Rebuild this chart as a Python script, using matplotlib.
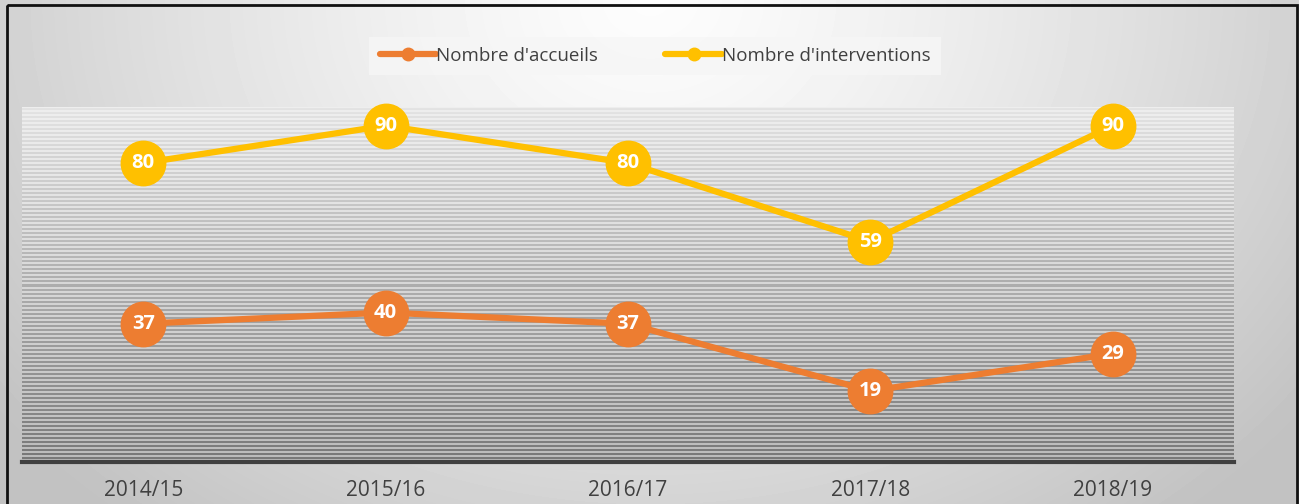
import numpy as np
import matplotlib.pyplot as plt
from matplotlib.patches import Rectangle

# Data
years = ['2014/15', '2015/16', '2016/17', '2017/18', '2018/19']
accueils = [37, 40, 37, 19, 29]
interventions = [80, 90, 80, 59, 90]

ORANGE = '#ED7D31'
YELLOW = '#FFC000'
TEXT = '#404040'

plt.rcParams['font.family'] = ['Open Sans', 'DejaVu Sans']

W, H = 1299, 504
fig = plt.figure(figsize=(W / 100, H / 100), dpi=100)

# Background radial gradient over the whole figure
bg = fig.add_axes([0, 0, 1, 1], zorder=0)
yy, xx = np.mgrid[0:H, 0:W]
r = np.sqrt(((xx - 650) / 800.0) ** 2 + ((yy - 0) / 650.0) ** 2)
shade = np.clip(0.99 - 0.22 * r ** 1.3, 0.76, 0.99)
bg.imshow(shade, cmap='gray', vmin=0, vmax=1, aspect='auto', extent=[0, W, H, 0], interpolation='bilinear')
bg.add_patch(Rectangle((7, 5), 1290, 520, fill=False, edgecolor='#111111', linewidth=2))
bg.set_xlim(0, W)
bg.set_ylim(H, 0)
bg.axis('off')

# Main plot area
ax = fig.add_axes([22 / W, 1 - 462 / H, (1234 - 22) / W, (462 - 107) / H], zorder=1)
ax.patch.set_alpha(0)

# Striped plot-area fill
rows = 355
t = np.linspace(0, 1, rows)
light = 0.93 - 0.20 * t ** 1.2
dark = 0.89 - 0.42 * t
stripe = np.where((np.arange(rows) % 4) < 2, light, dark)
img = np.tile(stripe[:, None], (1, 10))
ax.imshow(img, cmap='gray', vmin=0, vmax=1, aspect='auto', extent=[0, 1, 0, 1],
          transform=ax.transAxes, interpolation='nearest', zorder=0)

x = np.arange(len(years))
ax.plot(x, accueils, color=ORANGE, linewidth=4.5, marker='o', markersize=32,
        solid_capstyle='round', zorder=3, clip_on=False)
ax.plot(x, interventions, color=YELLOW, linewidth=4.5, marker='o', markersize=32,
        solid_capstyle='round', zorder=3, clip_on=False)

for xi, v in zip(x, accueils):
    ax.text(xi, v, str(v), color='white', fontsize=14.5, fontweight='bold',
            ha='center', va='center', zorder=4)
for xi, v in zip(x, interventions):
    ax.text(xi, v, str(v), color='white', fontsize=14.5, fontweight='bold',
            ha='center', va='center', zorder=4)

ax.set_xlim(-0.5, len(years) - 0.5)
ax.set_ylim(0, 95)
ax.set_yticks([])
ax.set_xticks(x)
ax.set_xticklabels(years, fontsize=15, color=TEXT)
ax.tick_params(axis='x', length=0, pad=13)
for s in ['top', 'right', 'left']:
    ax.spines[s].set_visible(False)
ax.spines['bottom'].set_color('#404040')
ax.spines['bottom'].set_linewidth(3)
ax.spines['bottom'].set_zorder(5)

# Legend with small markers
h1, = ax.plot([], [], color=ORANGE, linewidth=4.5, marker='o', markersize=9, solid_capstyle='round')
h2, = ax.plot([], [], color=YELLOW, linewidth=4.5, marker='o', markersize=9, solid_capstyle='round')
leg = fig.legend([h1, h2], ["Nombre d'accueils", "Nombre d'interventions"],
                 loc='center', bbox_to_anchor=(655 / W, 1 - 56 / H), ncol=2,
                 fontsize=13.5, frameon=True, handlelength=3.0, handletextpad=0.0,
                 columnspacing=3.6, borderpad=0.55, fancybox=False)
leg.get_frame().set_facecolor('#f6f6f6')
leg.get_frame().set_edgecolor('none')
for txt in leg.get_texts():
    txt.set_color(TEXT)

fig.savefig('out.png', dpi=100)
